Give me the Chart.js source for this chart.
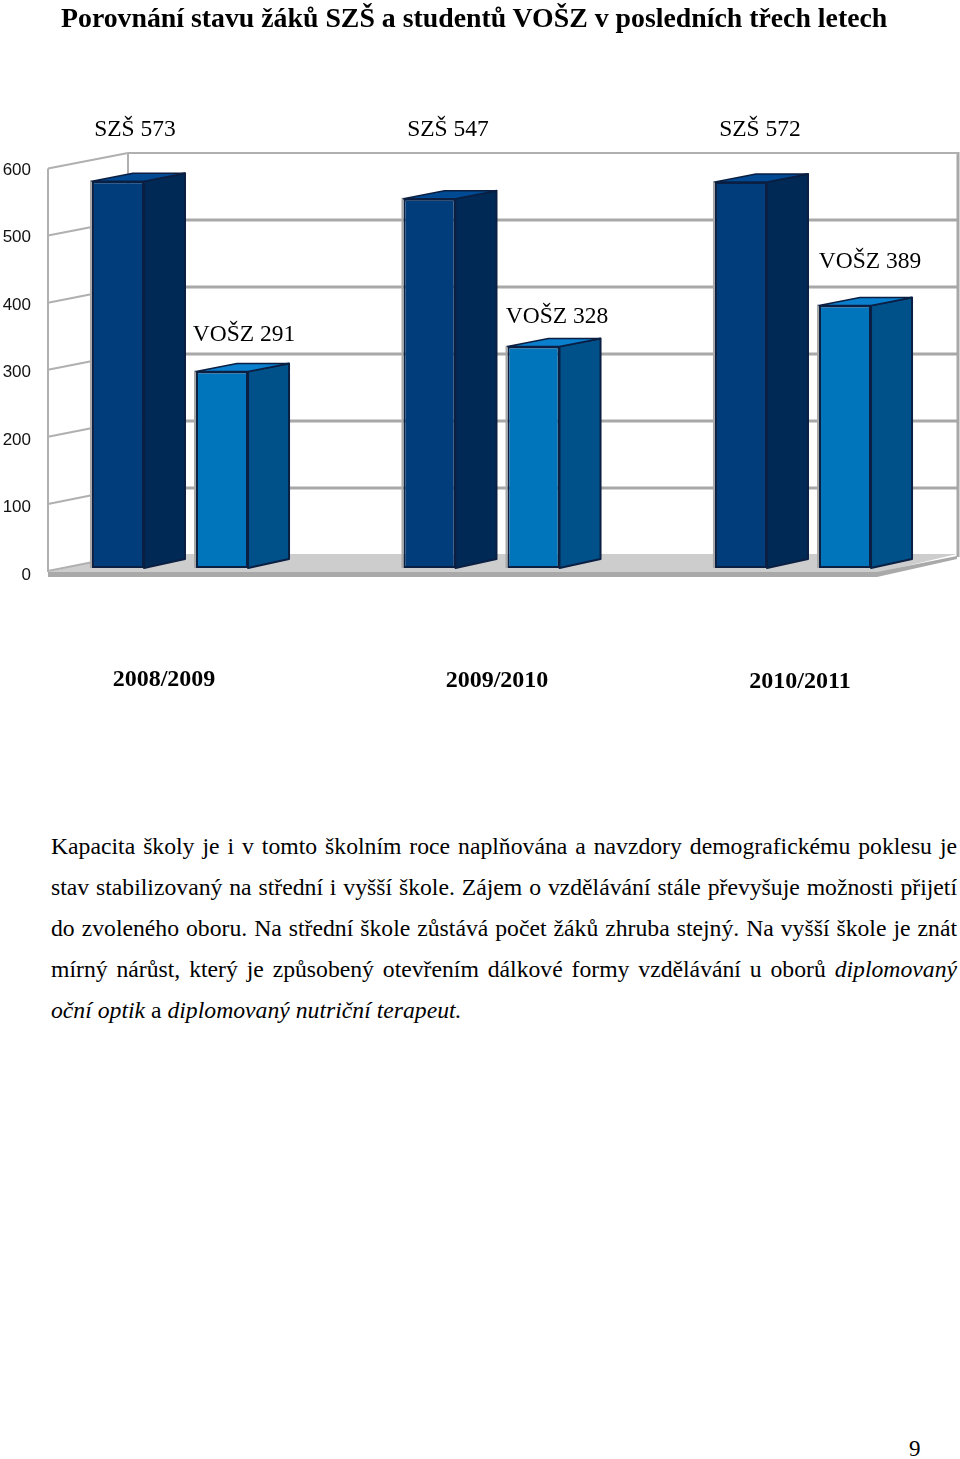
<!DOCTYPE html>
<html lang="cs">
<head>
<meta charset="utf-8">
<script src="https://cdn.jsdelivr.net/npm/chart.js@4"></script>
<style>
html,body{margin:0;padding:0;background:#fff;}
body{width:960px;height:1459px;position:relative;overflow:hidden;font-family:"Liberation Serif",serif;color:#000;}
#c{position:absolute;left:0;top:0;}
.t{position:absolute;white-space:nowrap;}
#title{left:61px;top:1px;font-size:27.8px;font-weight:bold;line-height:34px;}
.ln{position:absolute;left:51px;width:906px;font-size:23.7px;line-height:30px;text-align:justify;text-align-last:justify;white-space:normal;}
#pg{left:909px;top:1435px;font-size:23px;line-height:28px;}
</style>
</head>
<body>
<canvas id="c" width="960" height="720"></canvas>
<div class="t" id="title">Porovnání stavu žáků SZŠ a studentů VOŠZ v posledních třech letech</div>
<div class="ln" style="top:831px">Kapacita školy je i v tomto školním roce naplňována a navzdory demografickému poklesu je</div>
<div class="ln" style="top:872px">stav stabilizovaný na střední i vyšší škole. Zájem o vzdělávání stále převyšuje možnosti přijetí</div>
<div class="ln" style="top:913px">do zvoleného oboru. Na střední škole zůstává počet žáků zhruba stejný. Na vyšší škole je znát</div>
<div class="ln" style="top:954px">mírný nárůst, který je způsobený otevřením dálkové formy vzdělávání u oborů <i>diplomovaný</i></div>
<div class="t" style="left:51px;top:995px;font-size:23.7px;line-height:30px"><i>oční optik</i> a <i>diplomovaný nutriční terapeut.</i></div>
<div class="t" id="pg">9</div>
<script>
const categories = ['2008/2009', '2009/2010', '2010/2011'];
const seriesNames = ['SZŠ', 'VOŠZ'];
const szsValues = [573, 547, 572];
const voszValues = [291, 328, 389];
const yTicks = [0, 100, 200, 300, 400, 500, 600];

const frontColors = ['#003d7a', '#0075bb'];
const sideColors = ['#002a55', '#00518a'];
const topColors = ['#004a94', '#0a7fce'];
const outline = '#0a1f42';
const DX = 41, DY_TOP = -8, DY_BASE = -9;

const chrome = {
  id: 'chrome',
  afterLayout(chart) {
    // the plot reaches under the tick labels: widen the category band to the full plot
    const s = chart.scales.x;
    s.left = 14.25; s.right = 948.75; s.width = 934.5;
    s.configure();
  },
  beforeDatasetsDraw(chart) {
    const g = chart.ctx, y = chart.scales.y;
    const y0 = y.getPixelForValue(0), y6 = y.getPixelForValue(600);
    const front = v => 571 - (y0 - y.getPixelForValue(v)) * 402.5 / (y0 - y6);
    const back = v => 555 - (y0 - y.getPixelForValue(v)) * 402 / (y0 - y6);
    g.save();
    // floor
    g.fillStyle = '#cdcdcd';
    g.beginPath(); g.moveTo(48, 572); g.lineTo(128, 554); g.lineTo(957, 554); g.lineTo(877, 573); g.closePath(); g.fill();
    g.fillStyle = '#a9a9a9';
    g.beginPath(); g.moveTo(48, 572); g.lineTo(877, 572); g.lineTo(957, 556); g.lineTo(957, 559); g.lineTo(877, 577); g.lineTo(48, 577); g.closePath(); g.fill();
    // walls
    g.strokeStyle = '#b0b0b0'; g.lineWidth = 2;
    g.beginPath(); g.moveTo(48, front(600)); g.lineTo(48, 572); g.stroke();
    g.beginPath(); g.moveTo(128, back(600)); g.lineTo(128, 555); g.stroke();
    g.lineWidth = 3; g.strokeStyle = '#a8a8a8';
    g.beginPath(); g.moveTo(958, back(600) - 1); g.lineTo(958, 557); g.stroke();
    g.lineWidth = 2;
    yTicks.forEach(v => {
      if (v > 0) { g.beginPath(); g.moveTo(128, back(v)); g.lineTo(958, back(v)); g.strokeStyle = v === 600 ? '#b0b0b0' : '#a8a8a8'; g.lineWidth = v === 600 ? 2 : 3; g.stroke(); }
      g.beginPath(); g.moveTo(48, front(v)); g.lineTo(128, back(v)); g.strokeStyle = '#b0b0b0'; g.lineWidth = 2; g.stroke();
    });
    // halo on the left of each bar
    chart.data.datasets.forEach((d, i) => chart.getDatasetMeta(i).data.forEach(b => {
      g.strokeStyle = '#a8a8a8'; g.lineWidth = 2;
      g.beginPath(); g.moveTo(b.x - b.width / 2 - 1, b.y - 1); g.lineTo(b.x - b.width / 2 - 1, b.base); g.stroke();
    }));
    g.restore();
  },
  afterDatasetsDraw(chart) {
    const g = chart.ctx;
    g.save();
    g.lineJoin = 'round';
    chart.data.datasets.forEach((d, i) => chart.getDatasetMeta(i).data.forEach(b => {
      const l = b.x - b.width / 2, r = b.x + b.width / 2;
      g.strokeStyle = outline; g.lineWidth = 2;
      g.fillStyle = sideColors[i];
      g.beginPath(); g.moveTo(r, b.y); g.lineTo(r + DX, b.y + DY_TOP); g.lineTo(r + DX, b.base + DY_BASE); g.lineTo(r, b.base); g.closePath(); g.fill(); g.stroke();
      g.fillStyle = topColors[i];
      g.lineWidth = 1.5;
      g.beginPath(); g.moveTo(l, b.y); g.lineTo(l + DX, b.y + DY_TOP); g.lineTo(r + DX, b.y + DY_TOP); g.lineTo(r, b.y); g.closePath(); g.fill(); g.stroke();
    }));
    // value labels
    g.fillStyle = '#000';
    g.textBaseline = 'alphabetic'; g.textAlign = 'center';
    g.font = '23.5px "Liberation Serif"';
    const topX = [135, 448, 760], lowX = [244, 557, 870], lowY = [341, 323, 268];
    szsValues.forEach((v, k) => g.fillText(seriesNames[0] + ' ' + v, topX[k], 136));
    voszValues.forEach((v, k) => g.fillText(seriesNames[1] + ' ' + v, lowX[k], lowY[k]));
    // category labels
    g.font = 'bold 24px "Liberation Serif"';
    const catX = [164, 497, 800], catY = [686, 687, 688];
    categories.forEach((c, k) => g.fillText(c, catX[k], catY[k]));
    g.restore();
  }
};

new Chart(document.getElementById('c'), {
  type: 'bar',
  data: {
    labels: categories,
    datasets: [
      { label: seriesNames[0], data: szsValues, backgroundColor: frontColors[0] },
      { label: seriesNames[1], data: voszValues, backgroundColor: frontColors[1] }
    ]
  },
  options: {
    responsive: false,
    animation: false,
    layout: { padding: { top: 163, bottom: 152, right: 11.25, left: 0 } },
    plugins: { legend: { display: false }, title: { display: false }, tooltip: { enabled: false } },
    datasets: { bar: { categoryPercentage: 0.668, barPercentage: 0.5, borderColor: outline, borderWidth: 2, borderSkipped: false, clip: false } },
    scales: {
      x: { display: false },
      y: {
        min: 0, max: 600,
        afterFit(s) { s.width = 31; s.paddingTop = 0; s.paddingBottom = 0; },
        afterBuildTicks(s) { s.ticks = yTicks.map(v => ({ value: v })); },
        grid: { display: false, drawTicks: false, tickLength: 0 },
        border: { display: false },
        ticks: { color: '#111', font: { family: 'Liberation Sans', size: 17 }, padding: 0, labelOffset: 7 }
      }
    }
  },
  plugins: [chrome]
});
</script>
</body>
</html>
